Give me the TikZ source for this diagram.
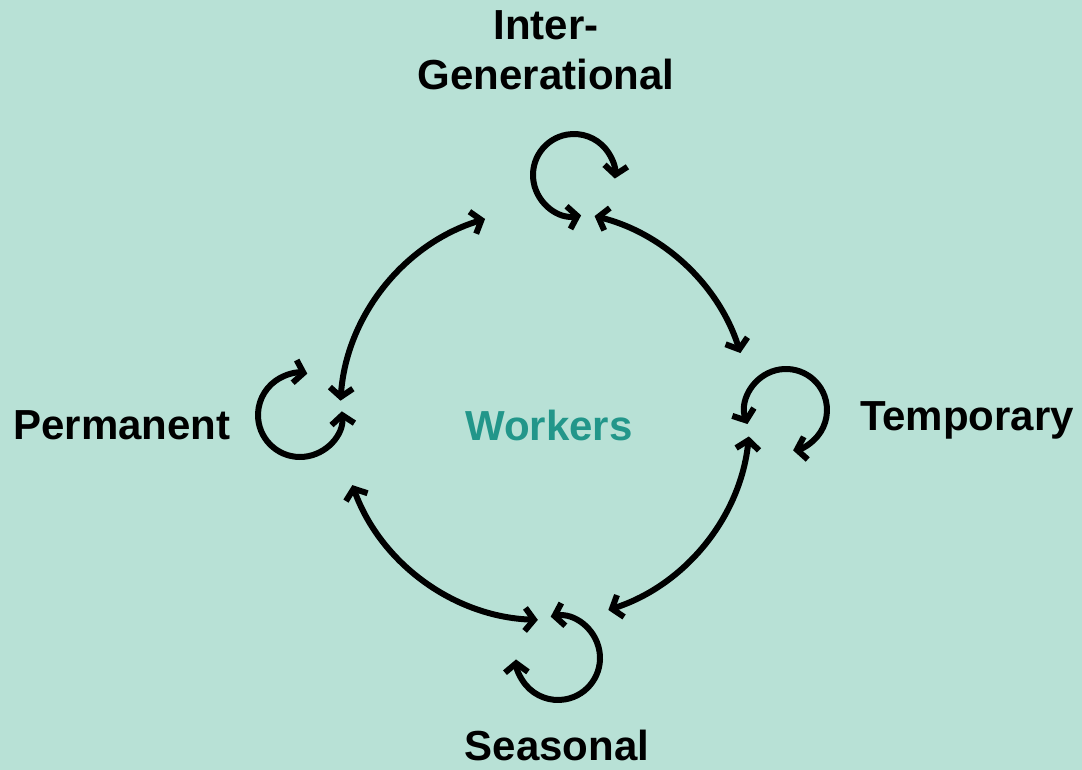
\documentclass[tikz,border=0pt]{standalone}
\usepackage{fontspec}
\setmainfont{Liberation Sans}
\usetikzlibrary{arrows.meta,calc}
\definecolor{bgmint}{RGB}{184,225,214}
\definecolor{wteal}{RGB}{34,150,138}
\begin{document}
\begin{tikzpicture}[x=1pt,y=1pt,
  conn/.style={line width=6pt,{Straight Barb[length=9pt,width=23pt]}-{Straight Barb[length=9pt,width=23pt]}},
  lbl/.style={font=\bfseries\fontsize{42}{50}\selectfont,inner sep=0pt,align=center}]
\fill[bgmint] (0,0) rectangle (1082,-770);
\useasboundingbox (0,0) rectangle (1082,-770);
% labels
\node[lbl] (inter) at (546,-50) {Inter-\\Generational};
\node[lbl] (perm) at (122,-425) {Permanent};
\node[lbl] (temp) at (967,-420) {Temporary};
\node[lbl] (seas) at (557,-745) {Seasonal};
\node[lbl,text=wteal] (work) at (549,-425) {Workers};
% main circle arcs
\coordinate (C) at (545,-415);
\coordinate (a1) at ($(C)+(176:205)$);
\coordinate (a2) at ($(C)+(76:205)$);
\coordinate (a3) at ($(C)+(-6:205)$);
\coordinate (a4) at ($(C)+(-92:205)$);
\draw[conn] (a1) arc[start angle=176,end angle=107,radius=205];
\draw[conn] (a2) arc[start angle=76,end angle=17.6,radius=205];
\draw[conn] (a3) arc[start angle=-6,end angle=-72,radius=205];
\draw[conn] (a4) arc[start angle=-92,end angle=-160,radius=205];
% self loops
\coordinate (lt) at ($(574,-175)+(-80:41)$);
\draw[conn] (lt) arc[start angle=-80,end angle=-365,radius=41];
\coordinate (ll) at ($(300,-415)+(5:42)$);
\draw[conn] (ll) arc[start angle=5,end angle=-280,radius=42];
\coordinate (lr) at ($(786,-410)+(200:41)$);
\draw[conn] (lr) arc[start angle=200,end angle=-80,radius=41];
\coordinate (lb) at ($(558,-658)+(100:42)$);
\draw[conn] (lb) arc[start angle=100,end angle=-178,radius=42];
\end{tikzpicture}
\end{document}
